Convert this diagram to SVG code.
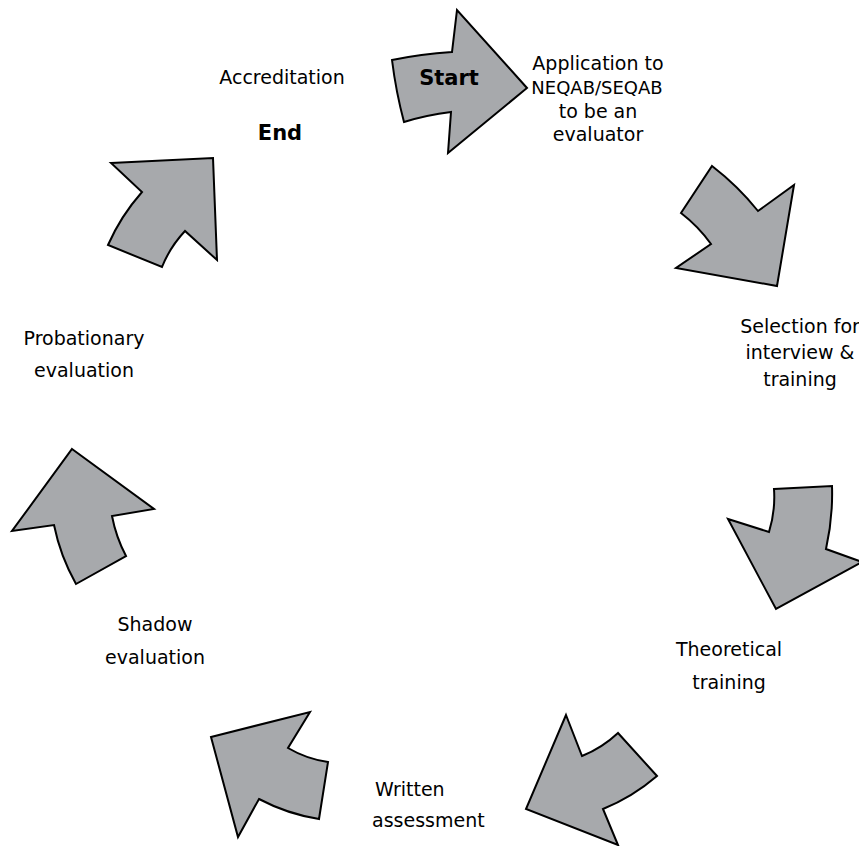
<svg xmlns="http://www.w3.org/2000/svg" width="859" height="846" viewBox="0 0 859 846">
<style>
.arr{fill:#a7a9ac;stroke:#000;stroke-width:2;stroke-linejoin:miter}
text{font-family:"DejaVu Sans","Liberation Sans",sans-serif;font-size:19px;fill:#000;text-anchor:middle}
.b{font-weight:bold;font-size:21px}
.s{font-size:18px}
.l{text-anchor:start}
</style>
<rect width="859" height="846" fill="#fff"/>
<g id="connectors">
<path id="a1" class="arr" d="M392,60 Q421,54 452,52 L457,10 L527,88 L448,153 L451,112 Q426.5,115 404,122 Q396,92 392,60 Z"/>
<path id="a2" class="arr" d="M712,166 Q738,186 758,211 L794,185 L777,286 L676,268 L711,244 Q698.5,226.5 681,213 Z"/>
<path id="a3" class="arr" d="M774,489 L832,486 Q833,518 826,549 L862,562 L776,609 L728,519 L769,532 Q775.5,511 774,489 Z"/>
<path id="a4" class="arr" d="M566,715 L582,756 Q602,748 618,733 L657,776 Q632.5,797 603,809 L618,845 L526,809 Z"/>
<path id="a5" class="arr" d="M310,712 L288,748 Q306.7,759 328,762 L319,819 Q287.4,814 259,799 L238,837 L211,737 Z"/>
<path id="a6" class="arr" d="M72,449 L154,509 L112,516 Q116,537 126,556 L76,584 Q60.3,556 54,525 L12,531 Z"/>
<path id="a7" class="arr" d="M111,163 L213,158 L217,260 L185,231 Q170,247 162,267 L108,245 Q120.8,216 142,192 Z"/>
</g>
<g id="start"><text class="b" x="449" y="85">Start</text></g>
<g id="accreditation"><text x="282" y="84">Accreditation</text></g>
<g id="end"><text class="b" x="280" y="140">End</text></g>
<g id="application">
<text x="598" y="70">Application to</text>
<text class="s" x="597" y="94">NEQAB/SEQAB</text>
<text x="598" y="118">to be an</text>
<text x="598" y="141">evaluator</text>
</g>
<g id="selection">
<text x="800" y="333">Selection for</text>
<text x="800" y="359">interview &amp;</text>
<text x="800" y="386">training</text>
</g>
<g id="theoretical">
<text x="729" y="656">Theoretical</text>
<text x="729" y="689">training</text>
</g>
<g id="written">
<text class="l" x="375" y="796">Written</text>
<text class="l" x="372" y="827">assessment</text>
</g>
<g id="shadow">
<text x="155" y="631">Shadow</text>
<text x="155" y="664">evaluation</text>
</g>
<g id="probationary">
<text x="84" y="345">Probationary</text>
<text x="84" y="377">evaluation</text>
</g>
</svg>
